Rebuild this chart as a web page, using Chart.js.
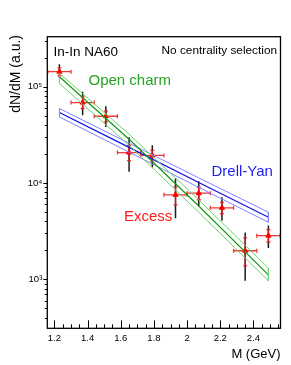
<!DOCTYPE html>
<html>
<head>
<meta charset="utf-8">
<script src="https://cdn.jsdelivr.net/npm/chart.js@4/dist/chart.umd.min.js"></script>
<style>
html,body{margin:0;padding:0;background:#fff;}
canvas{display:block;}
</style>
</head>
<body>
<canvas id="c" width="291" height="365" style="width:291px;height:365px"></canvas>
<script>
// ---- data ----
const xTickValues = [1.2, 1.4, 1.6, 1.8, 2.0, 2.2, 2.4];
const xTickLabels = ['1.2', '1.4', '1.6', '1.8', '2', '2.2', '2.4'];
const yTickValues = [1e3, 1e4, 1e5];
const yTickLabels = ['10\u00B3', '10\u2074', '10\u2075'];

const massBins     = [1.23, 1.37, 1.51, 1.65, 1.79, 1.93, 2.07, 2.21, 2.35, 2.49];
const binHalfWidth = [0.07, 0.07, 0.07, 0.07, 0.07, 0.07, 0.07, 0.07, 0.07, 0.07];
const excess        = [1.43e5, 6.84e4, 4.93e4, 2.07e4, 1.93e4, 7.54e3, 7.83e3, 5.52e3, 1.98e3, 2.84e3];
const excessStatHi  = [1.57e5, 7.83e4, 5.56e4, 2.46e4, 2.18e4, 9.12e3, 9.03e3, 6.30e3, 2.69e3, 3.28e3];
const excessStatLo  = [1.30e5, 5.93e4, 4.30e4, 1.71e4, 1.65e4, 5.93e3, 6.70e3, 4.78e3, 1.38e3, 2.43e3];
const excessTotHi   = [1.71e5, 8.84e4, 6.27e4, 2.98e4, 2.46e4, 1.11e4, 1.04e4, 7.11e3, 3.07e3, 3.61e3];
const excessTotLo   = [1.22e5, 5.05e4, 3.81e4, 1.31e4, 1.46e4, 4.30e3, 5.69e3, 4.06e3, 964, 2.11e3];

const modelMass     = [1.23, 1.65, 2.07, 2.49];
const openCharm     = [1.265e5, 2.84e4, 5.77e3, 1.11e3];
const openCharmHi   = [1.373e5, 3.21e4, 6.67e3, 1.31e3];
const openCharmLo   = [1.08e5, 2.46e4, 4.97e3, 964];
const drellYan      = [5.38e4, 2.34e4, 1.01e4, 4.41e3];
const drellYanHi    = [5.93e4, 2.59e4, 1.13e4, 4.97e3];
const drellYanLo    = [4.84e4, 2.09e4, 9.0e3, 3.91e3];

// ---- build library tables ----
function pts(xs, ys) { return xs.map((x, i) => ({x: x, y: ys[i]})); }
function band(xs, hi, lo) {
  const up = pts(xs, hi);
  const dn = pts(xs, lo).reverse();
  return up.concat(dn, [up[0]]);
}

const FONT = "'Liberation Sans', Arial, Helvetica, sans-serif";

const errorBars = {
  id: 'errorBars',
  beforeDatasetDraw(chart, args) {
    if (args.index !== 4) return;
    const ctx = chart.ctx, xs = chart.scales.x, ys = chart.scales.y, a = chart.chartArea;
    ctx.save();
    ctx.beginPath();
    ctx.rect(a.left, a.top, a.right - a.left, a.bottom - a.top);
    ctx.clip();
    ctx.strokeStyle = '#1a1a1a';
    ctx.lineWidth = 1.5;
    massBins.forEach((m, i) => {
      const px = xs.getPixelForValue(m);
      ctx.beginPath();
      ctx.moveTo(px, ys.getPixelForValue(excessTotHi[i]));
      ctx.lineTo(px, ys.getPixelForValue(excessTotLo[i]));
      ctx.stroke();
    });
    ctx.strokeStyle = 'rgba(240,20,20,0.85)';
    ctx.lineWidth = 1.3;
    const cap = 2;
    massBins.forEach((m, i) => {
      const px = xs.getPixelForValue(m);
      const py = ys.getPixelForValue(excess[i]);
      const x0 = xs.getPixelForValue(m - binHalfWidth[i]);
      const x1 = xs.getPixelForValue(m + binHalfWidth[i]);
      const y0 = ys.getPixelForValue(excessStatHi[i]);
      const y1 = ys.getPixelForValue(excessStatLo[i]);
      ctx.beginPath();
      ctx.moveTo(x0, py); ctx.lineTo(x1, py);
      ctx.moveTo(x0, py - cap); ctx.lineTo(x0, py + cap);
      ctx.moveTo(x1, py - cap); ctx.lineTo(x1, py + cap);
      ctx.moveTo(px, y0); ctx.lineTo(px, y1);
      ctx.moveTo(px - cap, y0); ctx.lineTo(px + cap, y0);
      ctx.moveTo(px - cap, y1); ctx.lineTo(px + cap, y1);
      ctx.stroke();
    });
    ctx.restore();
  }
};

const frameAndText = {
  id: 'frameAndText',
  afterDraw(chart) {
    const ctx = chart.ctx, a = chart.chartArea, xs = chart.scales.x, ys = chart.scales.y;
    ctx.save();
    ctx.strokeStyle = '#000';
    ctx.lineWidth = 1;
    ctx.beginPath();
    for (let k = Math.ceil(xs.min / 0.05 - 1e-6); k * 0.05 <= xs.max + 1e-9; k++) {
      const v = k * 0.05;
      const px = Math.round(xs.getPixelForValue(v)) + 0.5;
      const major = Math.abs(v / 0.2 - Math.round(v / 0.2)) < 1e-6;
      ctx.moveTo(px, a.bottom);
      ctx.lineTo(px, a.bottom - (major ? 8 : 4));
    }
    ctx.stroke();
    ctx.beginPath();
    for (let e = 2; e <= 5; e++) {
      for (let s = 1; s <= 9; s++) {
        const v = s * Math.pow(10, e);
        if (v < ys.min || v > ys.max) continue;
        const py = Math.round(ys.getPixelForValue(v)) + 0.5;
        ctx.moveTo(a.left, py);
        ctx.lineTo(a.left - (s === 1 ? 4 : 2.5), py);
      }
    }
    ctx.stroke();
    ctx.lineWidth = 1.3;
    ctx.strokeStyle = '#000';
    ctx.strokeRect(a.left, a.top, a.right - a.left, a.bottom - a.top);

    ctx.textBaseline = 'middle';
    ctx.fillStyle = '#000';
    ctx.font = '13.5px ' + FONT;
    ctx.textAlign = 'left';
    ctx.fillText('In-In NA60', 53.5, 52);
    ctx.font = '11.8px ' + FONT;
    ctx.textAlign = 'right';
    ctx.fillText('No centrality selection', 277, 51);
    ctx.font = '15px ' + FONT;
    ctx.textAlign = 'left';
    ctx.fillStyle = '#22a522';
    ctx.fillText('Open charm', 88.5, 81);
    ctx.fillStyle = '#1e1ef0';
    ctx.fillText('Drell-Yan', 211.5, 172);
    ctx.fillStyle = '#ff1a1a';
    ctx.fillText('Excess', 124, 217);
    ctx.fillStyle = '#000';
    ctx.font = '13px ' + FONT;
    ctx.textAlign = 'right';
    ctx.fillText('M (GeV)', 280.5, 354);
    ctx.translate(16, 35);
    ctx.rotate(-Math.PI / 2);
    ctx.font = '14px ' + FONT;
    ctx.textAlign = 'right';
    ctx.fillText('dN/dM (a.u.)', 0, 0);
    ctx.restore();
  }
};

new Chart(document.getElementById('c'), {
  type: 'scatter',
  data: {
    datasets: [
      { data: band(modelMass, openCharmHi, openCharmLo), showLine: true, borderColor: '#6fd06f', borderWidth: 1, pointRadius: 0, fill: false, tension: 0 },
      { data: pts(modelMass, openCharm), showLine: true, borderColor: '#119911', borderWidth: 1.2, pointRadius: 0, fill: false, tension: 0 },
      { data: band(modelMass, drellYanHi, drellYanLo), showLine: true, borderColor: '#8080ff', borderWidth: 1, pointRadius: 0, fill: false, tension: 0 },
      { data: pts(modelMass, drellYan), showLine: true, borderColor: '#1010ee', borderWidth: 1.2, pointRadius: 0, fill: false, tension: 0 },
      { data: pts(massBins, excess), showLine: false, pointStyle: 'triangle', pointRadius: 3, backgroundColor: '#ff0000', borderColor: '#ff0000', borderWidth: 1 }
    ]
  },
  options: {
    responsive: false,
    devicePixelRatio: 1,
    animation: false,
    events: [],
    layout: { padding: { left: 0, top: 36.7, right: 10.5, bottom: 0 } },
    plugins: { legend: { display: false }, tooltip: { enabled: false } },
    scales: {
      x: {
        type: 'linear', min: 1.157, max: 2.563,
        grid: { display: false, drawTicks: false },
        border: { display: false },
        afterBuildTicks: s => { s.ticks = xTickValues.map(v => ({ value: v })); },
        afterFit: s => { s.height = 36.7; },
        ticks: {
          padding: 4, color: '#000', font: { family: FONT, size: 9.5 }, maxRotation: 0, autoSkip: false,
          callback: (v) => { const i = xTickValues.findIndex(t => Math.abs(t - v) < 1e-9); return i >= 0 ? xTickLabels[i] : ''; }
        }
      },
      y: {
        type: 'logarithmic', min: 310, max: 3.3e5,
        grid: { display: false, drawTicks: false },
        border: { display: false },
        afterBuildTicks: s => { s.ticks = yTickValues.map(v => ({ value: v })); },
        afterFit: s => { s.width = 47.3; },
        ticks: {
          padding: 5, color: '#000', font: { family: FONT, size: 9.5 }, autoSkip: false,
          callback: (v) => { const i = yTickValues.findIndex(t => Math.abs(t - v) / t < 1e-6); return i >= 0 ? yTickLabels[i] : ''; }
        }
      }
    }
  },
  plugins: [errorBars, frameAndText]
});
</script>
</body>
</html>
